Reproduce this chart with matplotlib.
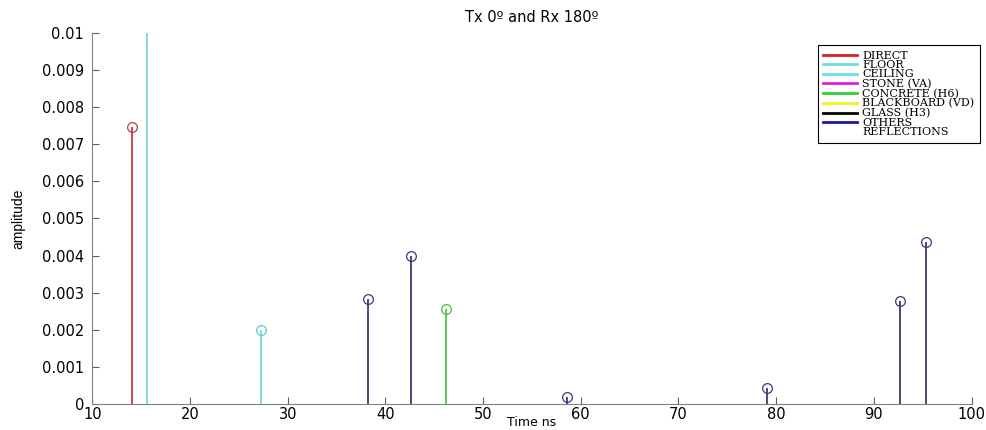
import numpy as np
import matplotlib.pyplot as plt
from matplotlib.lines import Line2D
from matplotlib.ticker import FuncFormatter

# stem groups: (time ns, amplitude)
direct_t = [14.1]
direct_a = [0.00747]
floor_t = [15.6]
floor_a = [0.025]
ceiling_t = [27.25]
ceiling_a = [0.00200]
concrete_t = [46.25]
concrete_a = [0.00255]
others_t = [38.2, 42.6, 58.6, 79.1, 92.7, 95.3]
others_a = [0.00283, 0.00399, 0.00020, 0.00042, 0.00278, 0.00437]

legend_labels = ['DIRECT', 'FLOOR', 'CEILING', 'STONE (VA)', 'CONCRETE (H6)',
                 'BLACKBOARD (VD)', 'GLASS (H3)', 'OTHERS', 'REFLECTIONS']
legend_colors = ['#d62020', '#70dede', '#70dede', '#e020e0', '#30d030',
                 '#f0f020', '#000000', '#1a1a9a', 'none']

fig = plt.figure(figsize=(9.86, 4.3), dpi=100)
ax = fig.add_axes([0.0936, 0.0605, 0.8918, 0.8628])


def draw_stem(t, a, line_color, mark_color):
    m, s, b = ax.stem(t, a, linefmt='-', markerfmt='o', basefmt=' ')
    s.set_color(line_color)
    s.set_linewidth(1.2)
    m.set_markerfacecolor('none')
    m.set_markeredgecolor(mark_color)
    m.set_markersize(7)
    m.set_markeredgewidth(0.9)


draw_stem(direct_t, direct_a, '#c82828', '#b04040')
draw_stem(floor_t, floor_a, '#70d8d8', '#70d8d8')
draw_stem(ceiling_t, ceiling_a, '#70d8d8', '#60c8c8')
draw_stem(concrete_t, concrete_a, '#40c040', '#40c040')
draw_stem(others_t, others_a, '#2a2a60', '#3a3a80')

ax.set_xlim(10, 100)
ax.set_ylim(0, 0.01)
ax.set_xticks(np.arange(10, 101, 10))
ax.set_yticks(np.arange(0, 0.0101, 0.001))
ax.yaxis.set_major_formatter(FuncFormatter(lambda v, p: '%g' % round(v, 4)))

for side in ['top', 'right']:
    ax.spines[side].set_visible(False)
for side in ['left', 'bottom']:
    ax.spines[side].set_color('#808080')
ax.tick_params(direction='in', length=5, color='#606060', labelsize=10.5,
               labelfontfamily='DejaVu Sans')
ax.tick_params(axis='y', pad=6)
ax.tick_params(axis='x', pad=2)

ax.set_title('Tx 0º and Rx 180º', fontsize=10.5, family='DejaVu Sans', pad=8)
ax.set_xlabel('Time ns', fontsize=9, family='DejaVu Sans', labelpad=-4)
ax.set_ylabel('amplitude', fontsize=10,
              family=['Liberation Sans Narrow', 'Liberation Sans'], labelpad=12)

handles = [Line2D([], [], color=c, lw=2) for c in legend_colors]
leg = fig.legend(handles, legend_labels, loc='upper right',
                 bbox_to_anchor=(980 / 986, 1 - 45 / 430),
                 prop={'family': 'DejaVu Serif', 'size': 8},
                 handlelength=3.0, handletextpad=0.5, labelspacing=-0.05,
                 borderpad=0.5, fancybox=False, framealpha=1,
                 edgecolor='black', borderaxespad=0)
leg.get_frame().set_linewidth(0.8)

fig.savefig('out.png', dpi=100)
